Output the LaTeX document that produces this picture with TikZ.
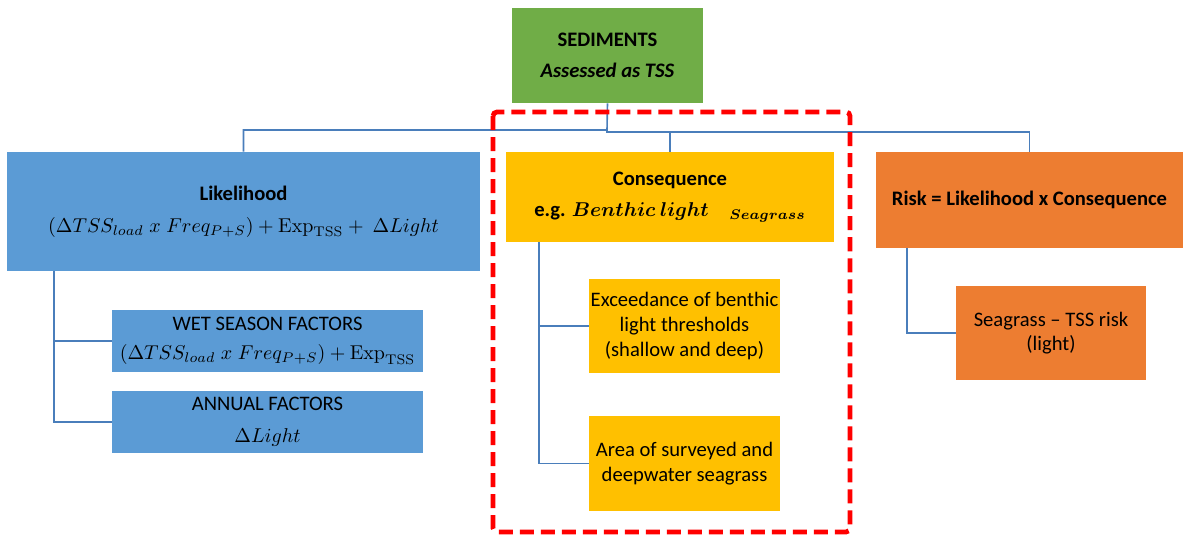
\documentclass[tikz,border=0pt]{standalone}
\usepackage[no-math]{fontspec}
\setmainfont{Carlito}
\usetikzlibrary{calc}
\definecolor{cgreen}{HTML}{70AD47}
\definecolor{cblue}{HTML}{5B9BD5}
\definecolor{cgold}{HTML}{FFC000}
\definecolor{corange}{HTML}{ED7D31}
\definecolor{cline}{HTML}{4A7EBB}
\definecolor{cred}{HTML}{FF0000}
\tikzset{
  box/.style={fill=#1, draw=none, inner sep=0pt, align=center,
    font=\fontsize{10.3}{12.3}\selectfont, text=black},
  conn/.style={draw=cline, line width=0.8pt},
  focus/.style={draw=cred, line width=2.4pt, dash pattern=on 7pt off 3.5pt, rounded corners=2pt}
}
\begin{document}
\begin{tikzpicture}[x=0.5pt,y=-0.5pt]
\useasboundingbox (0,0) rectangle (1184,536);
% boxes
\node[box=cgreen, minimum width=95.5pt, minimum height=47.5pt] (sed) at (607.5,55.5)
  {\textbf{SEDIMENTS}\\[3.5pt] \textbf{\textit{Assessed as TSS}}};
\node[box=cblue, minimum width=236.5pt, minimum height=59.5pt] (lik) at (243.5,211.5)
  {\textbf{Likelihood}\\[3.5pt] $(\Delta TSS_{load}\;x\;Freq_{P+S})+\mathrm{Exp}_{\mathrm{TSS}}+\ \Delta Light$};
\node[box=cblue, minimum width=155.5pt, minimum height=31pt] (wet) at (267.5,341)
  {WET SEASON FACTORS\\[2pt] $(\Delta TSS_{load}\;x\;Freq_{P+S})+\mathrm{Exp}_{\mathrm{TSS}}$};
\node[box=cblue, minimum width=155.5pt, minimum height=31pt] (ann) at (267.5,422)
  {ANNUAL FACTORS\\[3.5pt] $\Delta Light$};
\node[box=cgold, minimum width=164pt, minimum height=45pt] (con) at (670,197)
  {\textbf{Consequence}\\[3.5pt] \textbf{e.g.} {\boldmath$Benthic\ light_{\quad Seagrass}$}};
\node[box=cgold, minimum width=95.5pt, minimum height=47pt] (exc) at (684.5,326)
  {Exceedance of benthic\\ light thresholds\\ (shallow and deep)};
\node[box=cgold, minimum width=95.5pt, minimum height=47.5pt] (area) at (684.5,463.5)
  {Area of surveyed and\\ deepwater seagrass};
\node[box=corange, minimum width=153.5pt, minimum height=48pt] (risk) at (1029.5,200)
  {\textbf{Risk = Likelihood x Consequence}};
\node[box=corange, minimum width=95pt, minimum height=47pt] (sg) at (1051,333)
  {Seagrass -- TSS risk\\ (light)};
% connectors
\coordinate (j1) at (607,130);
\coordinate (j2) at (607,132);
\draw[conn] (sed.south) -- (j1) -| (lik.north);
\draw[conn] (j1) -- (j2) -| (con.north);
\draw[conn] (j2) -| (risk.north);
\coordinate (lk) at (54,271);
\draw[conn] (lk) |- (wet.west);
\draw[conn] (lk) |- (ann.west);
\coordinate (ck) at (539,242);
\draw[conn] (ck) |- (exc.west);
\draw[conn] (ck) |- (area.west);
\coordinate (rk) at (907,248);
\draw[conn] (rk) |- (sg.west);
% red dashed frame
\coordinate (fa) at (493,112);
\coordinate (fb) at (850,532);
\draw[focus] (fa) rectangle (fb);
\end{tikzpicture}
\end{document}
